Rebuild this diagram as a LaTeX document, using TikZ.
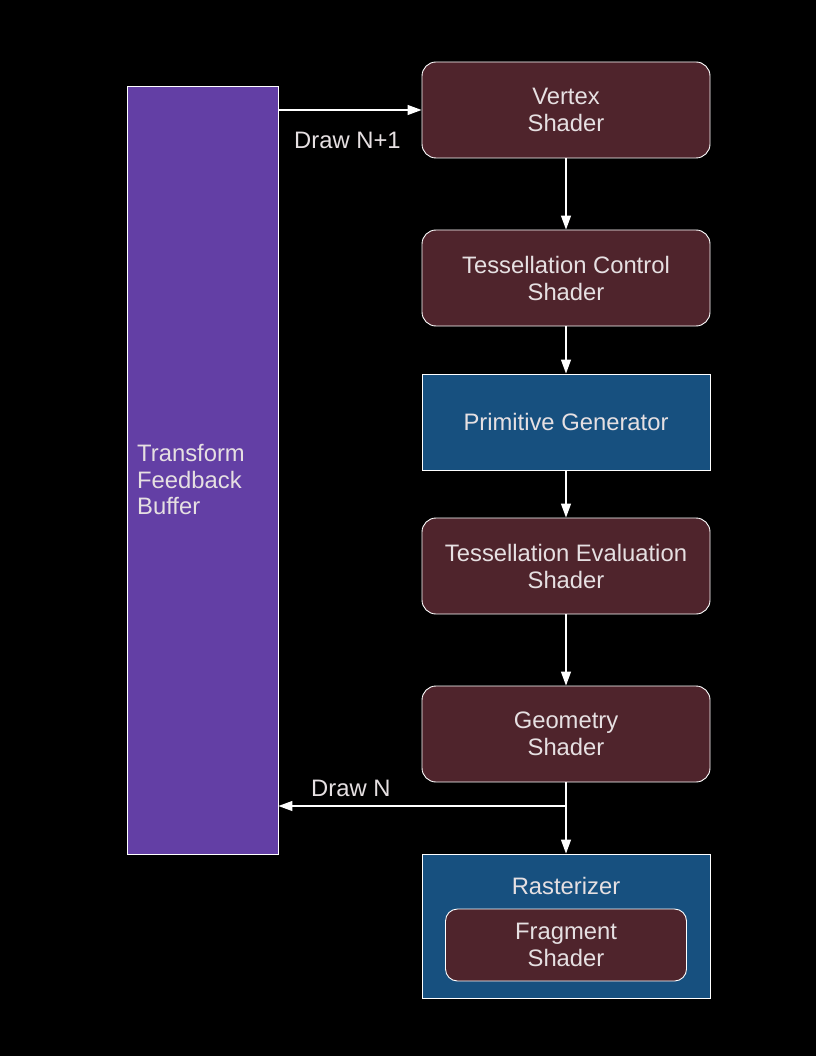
\documentclass[tikz,border=0pt]{standalone}
\usepackage{fontspec}
\setmainfont{Liberation Sans}
\usetikzlibrary{arrows.meta}
\definecolor{maroon}{HTML}{4F242C}
\definecolor{pblue}{HTML}{17507F}
\definecolor{purp}{HTML}{633FA5}
\definecolor{txt}{HTML}{E6E0E2}
\begin{document}
\begin{tikzpicture}[x=1pt,y=-1pt,
  shaderbox/.style={draw=white,line width=0.9pt,fill=maroon,rounded corners=14pt,minimum width=288pt,minimum height=96pt,text=txt,font=\fontsize{23.8}{27}\selectfont,align=center,inner sep=0pt},
  fixbox/.style={draw=white,line width=0.9pt,fill=pblue,minimum width=288pt,minimum height=96pt,text=txt,font=\fontsize{23.8}{27}\selectfont,align=center,inner sep=0pt},
  conn/.style={draw=white,line width=1.2pt,-{Triangle[length=14pt,width=10pt]}},
  lbl/.style={text=txt,font=\fontsize{23.8}{27}\selectfont,inner sep=0pt}]
\fill[black] (0,0) rectangle (816,1056);
\useasboundingbox (0,0) rectangle (816,1056);
\node[draw=white,line width=0.9pt,fill=purp,minimum width=151pt,minimum height=768pt,inner sep=0pt] (tfb) at (202.5,470) {};
\node[anchor=west,text=txt,align=left,font=\fontsize{23.8}{26.5}\selectfont,inner sep=0pt] (tfbl) at (137,480) {Transform\\Feedback\\Buffer};
\node[shaderbox] (vs) at (566,110) {Vertex\\Shader};
\node[shaderbox] (tcs) at (566,278) {Tessellation Control\\Shader};
\node[fixbox] (pg) at (566,422) {Primitive Generator};
\node[shaderbox] (tes) at (566,566) {Tessellation Evaluation\\Shader};
\node[shaderbox] (gs) at (566,734) {Geometry\\Shader};
\node[fixbox,minimum height=144pt] (rast) at (566,926) {};
\node[lbl] (rastl) at (566,886) {Rasterizer};
\node[shaderbox,minimum width=241pt,minimum height=72pt,rounded corners=12pt] (fs) at (566,945) {Fragment\\Shader};
\draw[conn] (tfb.east |- vs.west) -- (vs.west);
\node[lbl,anchor=west] (dn1) at (294,140) {Draw N+1};
\draw[conn] (vs) -- (tcs);
\draw[conn] (tcs) -- (pg);
\draw[conn] (pg) -- (tes);
\draw[conn] (tes) -- (gs);
\coordinate (split) at (566,806);
\draw[conn] (gs.south) -- (split) -- (rast.north);
\draw[conn] (split) -- (tfb.east |- split);
\node[lbl,anchor=west] (dn) at (311,788) {Draw N};
\end{tikzpicture}
\end{document}
